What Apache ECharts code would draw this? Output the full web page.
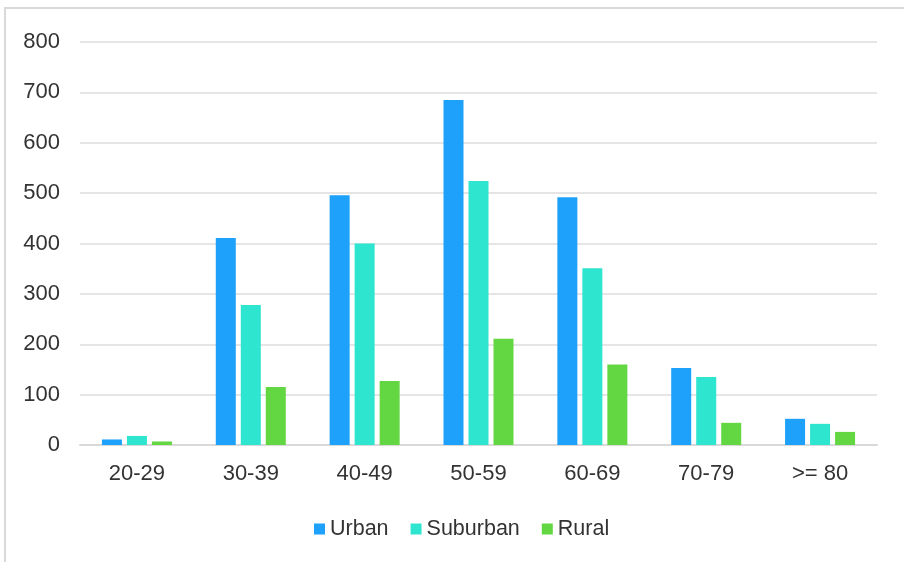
<!DOCTYPE html>
<html>
<head>
<meta charset="utf-8">
<script src="https://cdn.jsdelivr.net/npm/echarts@6/dist/echarts.min.js"></script>
<style>
html,body{margin:0;padding:0;background:#fff;}
#chart{width:904px;height:562px;}
</style>
</head>
<body>
<div id="chart"></div>
<script>
var categories = ['20-29', '30-39', '40-49', '50-59', '60-69', '70-79', '>= 80'];
var urban = [11, 411, 496, 685, 492, 153, 52];
var suburban = [18, 278, 400, 524, 351, 135, 42];
var rural = [7, 115, 127, 211, 160, 44, 26];
var seriesNames = ['Urban', 'Suburban', 'Rural'];
var colors = ['#1da1fb', '#2ee5d0', '#63d742'];

var font = "'Liberation Sans', Arial, Helvetica, sans-serif";
var chart = echarts.init(document.getElementById('chart'), null, {renderer: 'canvas'});
chart.setOption({
  animation: false,
  backgroundColor: '#fff',
  color: colors,
  graphic: [{
    type: 'rect',
    shape: {x: 5, y: 8, width: 1200, height: 1200},
    style: {fill: 'none', stroke: '#d9d9d9', lineWidth: 2},
    silent: true,
    z: -1
  }],
  grid: {left: 80, right: 27, top: 42, bottom: 117, containLabel: false},
  legend: {
    data: seriesNames,
    left: 309,
    top: 513,
    itemWidth: 11,
    itemHeight: 11,
    itemGap: 22,
    icon: 'rect',
    textStyle: {fontSize: 21.5, color: '#333', fontFamily: font}
  },
  xAxis: {
    type: 'category',
    data: categories,
    axisLine: {show: true, lineStyle: {color: '#d9d9d9', width: 2}},
    axisTick: {show: false},
    axisLabel: {fontSize: 22, color: '#333', margin: 18, fontFamily: font}
  },
  yAxis: {
    type: 'value',
    min: 0,
    max: 800,
    interval: 100,
    axisLine: {show: false},
    axisTick: {show: false},
    splitLine: {lineStyle: {color: '#dcdcdc', width: 1.5}},
    axisLabel: {fontSize: 22, color: '#333', margin: 20, fontFamily: font}
  },
  series: [
    {name: seriesNames[0], type: 'bar', data: urban, barWidth: 20, barGap: '25%'},
    {name: seriesNames[1], type: 'bar', data: suburban, barWidth: 20, barGap: '25%'},
    {name: seriesNames[2], type: 'bar', data: rural, barWidth: 20, barGap: '25%'}
  ]
});
</script>
</body>
</html>
